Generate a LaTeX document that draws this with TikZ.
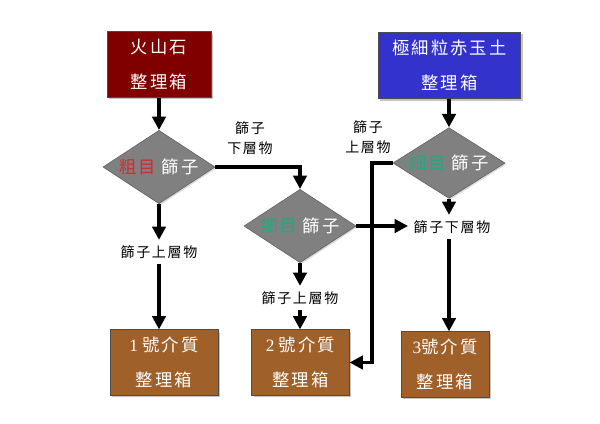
\documentclass[tikz,border=0pt]{standalone}
\usepackage{fontspec}
\setmainfont{Liberation Serif}
\newfontfamily\cjk[LetterSpace=12]{Noto Sans CJK TC}
\usetikzlibrary{shapes.geometric,arrows.meta,shadows}
\definecolor{volred}{RGB}{128,0,0}
\definecolor{akablue}{RGB}{51,51,204}
\definecolor{boxbrown}{RGB}{160,96,42}
\definecolor{dgray}{RGB}{128,128,128}
\definecolor{coarsered}{RGB}{205,45,45}
\definecolor{fineteal}{RGB}{30,170,130}
\begin{document}
\begin{tikzpicture}[x=0.75pt,y=-0.75pt,
 box/.style={rectangle, draw=black!70, line width=0.6pt, text=white, align=center,
   font=\cjk\fontsize{13}{26}\selectfont,
   drop shadow={shadow xshift=1.5pt,shadow yshift=-1.5pt,fill=black!45}, inner sep=0pt},
 sieve/.style={diamond, shape aspect=1.53, fill=dgray, draw=black!60, line width=0.5pt, minimum width=84pt,
   minimum height=55pt, inner sep=0pt, font=\cjk\fontsize{13}{15}\selectfont, text=white,
   drop shadow={shadow xshift=1pt,shadow yshift=-1pt,fill=black!30}},
 lbl/.style={font=\cjk\fontsize{10.5}{15}\selectfont, align=center, inner sep=4pt},
 flow/.style={line width=2.5pt, -{Triangle[length=10pt,width=10pt]}}]

\path[use as bounding box] (0,0) rectangle (600,424);

\node[box, fill=volred, minimum width=78pt, minimum height=49pt] (volc) at (159,64.5) {火山石\\整理箱};
\node[box, fill=akablue, minimum width=107pt, minimum height=50pt] (aka) at (449.5,65.5) {極細粒赤玉土\\整理箱};

\node[sieve] (d1) at (159,167) {{\color{coarsered}粗目} 篩子};
\node[sieve] (d2) at (300,226) {{\color{fineteal}細目} 篩子};
\node[sieve, minimum height=53pt] (d3) at (449,163) {{\color{fineteal}細目} 篩子};

\node[lbl] (l1) at (159,252) {篩子上層物};
\node[lbl] (l2) at (300,298) {篩子上層物};
\node[lbl] (l3) at (452,227) {篩子下層物};
\node[lbl] (l4) at (250,138) {篩子\\下層物};
\node[lbl] (l5) at (368,137) {篩子\\上層物};

\node[box, fill=boxbrown, minimum width=81pt, minimum height=49pt] (m1) at (164,362.5) {{\rmfamily 1\ }號介質\\整理箱};
\node[box, fill=boxbrown, minimum width=73pt, minimum height=49pt] (m2) at (300.5,362.5) {{\rmfamily 2\ }號介質\\整理箱};
\node[box, fill=boxbrown, minimum width=66pt, minimum height=49pt] (m3) at (445,364.5) {{\rmfamily 3}號介質\\整理箱};

\draw[flow] (volc.south) -- (d1.north);
\draw[flow] (d1.east) -| (d2.north);
\draw[flow] (d1.south) -- (l1.north);
\draw[flow] (l1.south) -- (l1.south |- m1.north);
\draw[flow] (d2.south) -- (l2.north);
\draw[flow] (l2.south) -- (l2.south |- m2.north);
\draw[flow] (d2.east) -- (d2.east -| l3.west);
\draw[flow] (aka.south -| d3.north) -- (d3.north);
\draw[flow] (d3.south) -- (d3.south |- l3.north);
\draw[flow] (d3.south |- l3.south) -- (d3.south |- m3.north);
\coordinate (bend) at (372,163);
\draw[flow] (d3.west) -- (bend) |- (m2.east);
\end{tikzpicture}
\end{document}
